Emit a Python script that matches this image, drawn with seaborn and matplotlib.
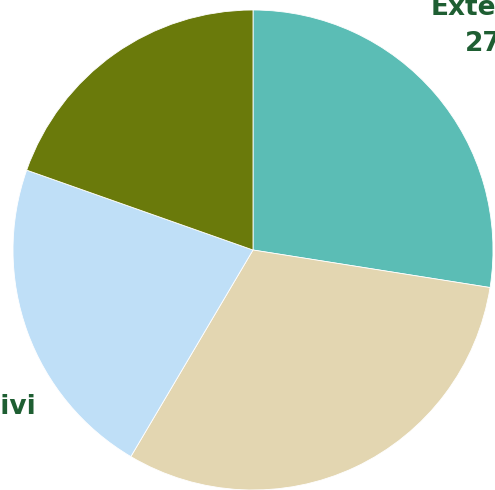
import matplotlib
matplotlib.use("Agg")
import matplotlib.pyplot as plt
import seaborn as sns

# slice data, clockwise from 12 o'clock
categories = ["Externship", "Beni", "Amministrativi", "Altri"]
shares = [27.5, 31.0, 21.9, 19.6]
colors = ["#5bbdb5", "#e3d6b1", "#bfdff7", "#6a7a0b"]

sns.set_theme(style="white")
plt.rcParams['font.family'] = ['DejaVu Sans']

fig = plt.figure(figsize=(4.95, 4.90), dpi=100)
ax = fig.add_axes([0, 0, 1, 1])

ax.pie(shares, colors=sns.color_palette(colors), startangle=90, counterclock=False,
       wedgeprops=dict(edgecolor="white", linewidth=0.6))

# the picture is a crop of a larger chart, so labels run off the edges
ax.set_xlim(-253 / 240, 242 / 240)
ax.set_ylim(-240 / 240, 250 / 240)
ax.axis("off")

label_style = dict(fontsize=19, fontweight="bold", color="#1e5e32",
                   multialignment="center", linespacing=1.48)
ax.text(0.74, 0.829, f"{categories[0]}\n{shares[0]}%", ha="left", va="baseline", **label_style)
ax.text(-0.9, -0.833, f"{categories[2]}\n{shares[2]}%", ha="right", va="baseline", **label_style)
ax.text(0.0, -1.25, f"{categories[1]}\n{shares[1]}%", ha="center", va="top", **label_style)
ax.text(-1.2, 1.1, f"{categories[3]}\n{shares[3]}%", ha="right", va="bottom", **label_style)

fig.savefig("out.png", dpi=100)
